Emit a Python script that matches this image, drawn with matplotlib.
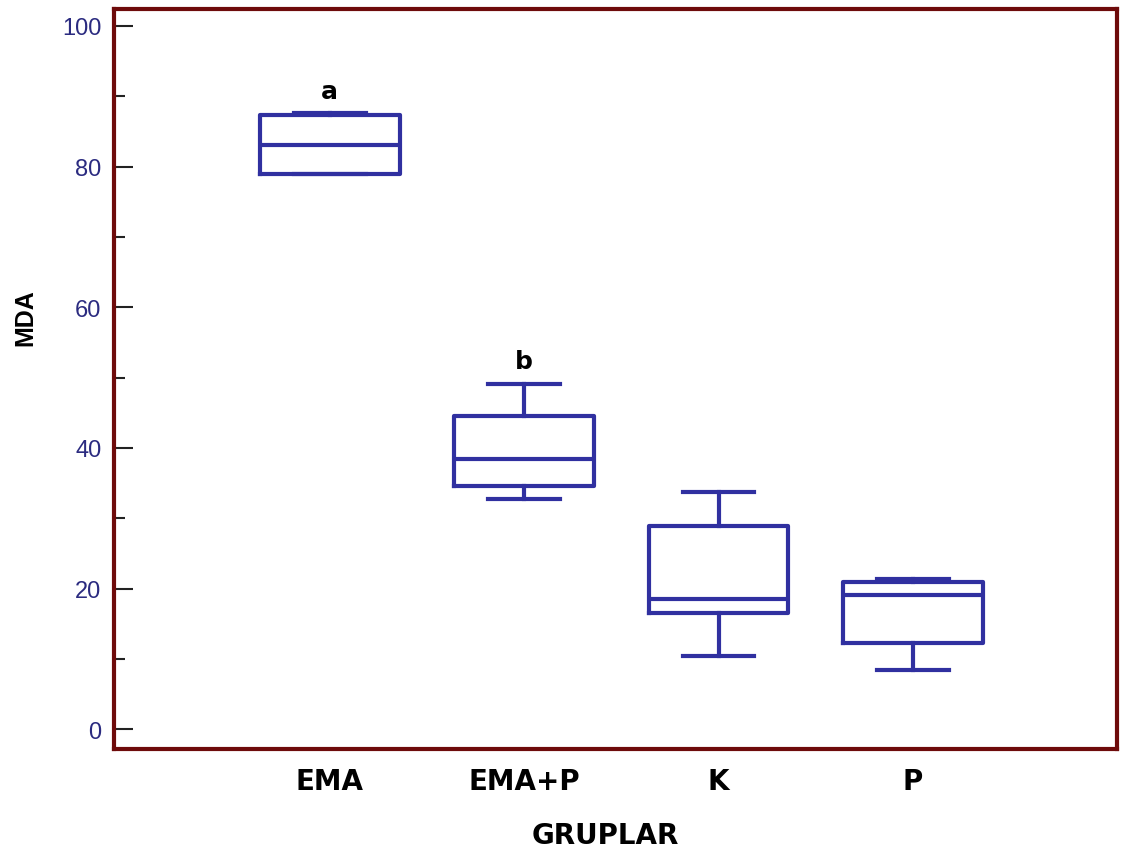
import matplotlib.pyplot as plt

groups = ['EMA', 'EMA+P', 'K', 'P']
whisker_lo = [79.0, 32.7, 10.4, 8.4]
q1 = [79.0, 34.6, 16.5, 12.2]
median = [83.1, 38.4, 18.5, 19.1]
q3 = [87.3, 44.5, 28.9, 20.9]
whisker_hi = [87.6, 49.1, 33.7, 21.3]
letters = ['a', 'b', '', '']

box_col = '#3030a0'
frame_col = '#6e0b0b'

plt.rcParams['font.family'] = ['Liberation Sans', 'DejaVu Sans']

fig = plt.figure(figsize=(11.21, 8.54), dpi=100)
ax = fig.add_axes([0.1017, 0.1218, 0.8947, 0.8665])

stats = []
for i, g in enumerate(groups):
    stats.append({'label': g, 'whislo': whisker_lo[i], 'q1': q1[i], 'med': median[i],
                  'q3': q3[i], 'whishi': whisker_hi[i], 'fliers': []})

lw = 3.0
ax.bxp(stats, positions=[1, 2, 3, 4], widths=0.72, showfliers=False,
       boxprops=dict(color=box_col, linewidth=lw),
       medianprops=dict(color=box_col, linewidth=lw),
       whiskerprops=dict(color=box_col, linewidth=lw),
       capprops=dict(color=box_col, linewidth=lw),
       capwidths=0.37)

for i, t in enumerate(letters):
    if t:
        ax.text(i + 1, whisker_hi[i] + 1.5, t, ha='center', va='bottom',
                fontsize=18, fontweight='bold', color='black',
                family='DejaVu Sans')

ax.set_xlim(-0.11, 5.05)
ax.set_ylim(-2.8, 102.4)
ax.set_yticks([0, 20, 40, 60, 80, 100])
ax.set_yticks(range(10, 100, 20), minor=True)
ax.tick_params(axis='y', which='major', direction='in', length=14, width=1.5,
               color='#222222', labelcolor='#2b2b80', labelsize=17, pad=9)
ax.tick_params(axis='y', which='minor', direction='in', length=8, width=1.5,
               color='#222222')
ax.tick_params(axis='x', length=0, pad=13)
for lab in ax.get_xticklabels():
    lab.set_fontweight('bold')
    lab.set_fontsize(20)
    lab.set_family('DejaVu Sans')

for s in ax.spines.values():
    s.set_color(frame_col)
    s.set_linewidth(3)

ax.set_ylabel('MDA', fontsize=18, fontweight='bold')
ax.yaxis.set_label_coords(-0.076, 0.584)
ax.set_xlabel('GRUPLAR', fontsize=20, fontweight='bold', family='DejaVu Sans')
ax.xaxis.set_label_coords(0.49, -0.097)

fig.savefig('out.png', dpi=100)
